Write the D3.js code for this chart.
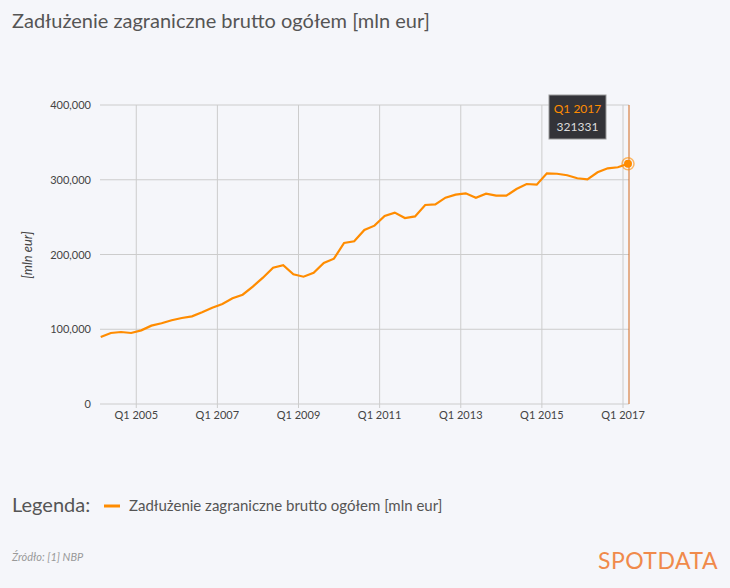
<!DOCTYPE html>
<html><head><meta charset="utf-8">
<script src="https://cdn.jsdelivr.net/npm/d3@7"></script>
<style>body{margin:0;background:#f5f6fa;font-family:Lato,sans-serif}</style></head>
<body><svg id="c" width="730" height="588"></svg>
<script>
const startYear = 2004;
const values = [89.6,95,96.3,95,98.5,104.8,108,112,115,117.3,122.7,128.9,133.8,141.4,146.2,157,169,182.4,185.6,173.5,170.3,175.6,188.6,194.4,215.4,217.7,232.8,238.6,251.5,256,248.8,251,266.2,267,276,280,281.8,276,281.3,278.7,278.7,287.6,294.3,293.4,308.6,308,306,302,300.6,310,315.3,316.7,321.331].map(v=>v*1000);
const yTicks = [0,100000,200000,300000,400000];
const xTickYears = [2005,2007,2009,2011,2013,2015,2017];
const data = values.map((v,i)=>({q:i, v}));
const svg = d3.select('#c');
svg.append('rect').attr('width',730).attr('height',588).attr('fill','#f5f6fa');
const L=100,R=629,T=105,B=404;
const x = d3.scaleLinear().domain([0,values.length-1]).range([L+0.7,R-1]);
const y = d3.scaleLinear().domain([0,400000]).range([B,T]);
const qx = (yr)=> x((yr-startYear)*4) - 5;
svg.append('text').attr('x',12).attr('y',28).attr('font-size',20).attr('fill','#555').text('Zadłużenie zagraniczne brutto ogółem [mln eur]');
const g = svg.append('g');
g.selectAll('.hy').data(yTicks).join('line').attr('x1',L).attr('x2',R).attr('y1',d=>y(d)).attr('y2',d=>y(d)).attr('stroke','#ccc');
g.selectAll('.vx').data(xTickYears).join('line').attr('x1',d=>qx(d)).attr('x2',d=>qx(d)).attr('y1',T).attr('y2',B+4).attr('stroke','#ccc');
g.selectAll('.yl').data(yTicks).join('text').attr('x',91).attr('y',d=>y(d)+4).attr('text-anchor','end').attr('font-size',11).attr('fill','#444').text(d=>d3.format(',')(d));
g.selectAll('.xl').data(xTickYears).join('text').attr('x',d=>qx(d)).attr('y',419).attr('text-anchor','middle').attr('font-size',11).attr('fill','#444').text(d=>'Q1 '+d);
svg.append('text').attr('transform','translate(32,255) rotate(-90)').attr('text-anchor','middle').attr('font-size',13).attr('font-style','italic').attr('fill','#444').text('[mln eur]');
g.append('line').attr('x1',R).attr('x2',R).attr('y1',T).attr('y2',B).attr('stroke','#d2691e').attr('stroke-width',1);
g.append('path').datum(data).attr('fill','none').attr('stroke','#ff8c00').attr('stroke-width',2.2)
 .attr('d',d3.line().x(d=>x(d.q)).y(d=>y(d.v)));
const last = data[data.length-1];
g.append('circle').attr('cx',x(last.q)).attr('cy',y(last.v)).attr('r',6).attr('fill','none').attr('stroke','#ff8c00').attr('stroke-opacity',0.6).attr('stroke-width',1.5);
g.append('circle').attr('cx',x(last.q)).attr('cy',y(last.v)).attr('r',4).attr('fill','#ff8c00');
const tt = svg.append('g').attr('transform','translate(549,95)');
tt.append('rect').attr('width',57).attr('height',44).attr('fill','#333338').attr('stroke','#999');
tt.append('text').attr('x',28.5).attr('y',18).attr('text-anchor','middle').attr('font-size',12).attr('fill','#ff8c00').text('Q1 2017');
tt.append('text').attr('x',28.5).attr('y',36).attr('text-anchor','middle').attr('font-size',12).attr('fill','#ddd').text(Math.round(last.v));
svg.append('text').attr('x',12).attr('y',512).attr('font-size',20).attr('fill','#555').text('Legenda:');
svg.append('line').attr('x1',104).attr('x2',120).attr('y1',506).attr('y2',506).attr('stroke','#ff8c00').attr('stroke-width',3);
svg.append('text').attr('x',129).attr('y',511).attr('font-size',15).attr('fill','#555').text('Zadłużenie zagraniczne brutto ogółem [mln eur]');
svg.append('text').attr('x',12).attr('y',561).attr('font-size',11).attr('font-style','italic').attr('fill','#999').text('Źródło: [1] NBP');
svg.append('text').attr('x',718).attr('y',569).attr('text-anchor','end').attr('font-size',23).attr('fill','#f08a4b').attr('letter-spacing',0.5).text('SPOTDATA');
</script></body></html>
